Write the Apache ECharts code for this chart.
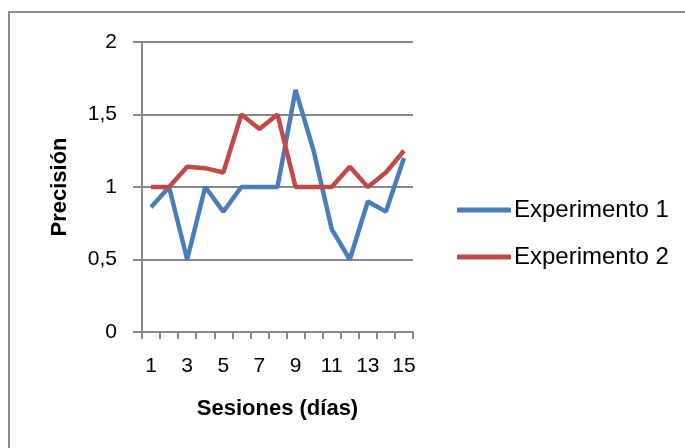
<!DOCTYPE html>
<html>
<head>
<meta charset="utf-8">
<script src="https://cdn.jsdelivr.net/npm/echarts@6/dist/echarts.min.js"></script>
<style>
  html, body { margin: 0; padding: 0; background: #fff; }
  #chart { width: 685px; height: 448px; }
</style>
</head>
<body>
<div id="chart"></div>
<script>
// Sesiones 1..15
const sessions = ['1','2','3','4','5','6','7','8','9','10','11','12','13','14','15'];
// Precisión por sesión
const experimento1 = [0.86, 1.0, 0.5, 1.0, 0.83, 1.0, 1.0, 1.0, 1.67, 1.25, 0.71, 0.5, 0.9, 0.83, 1.2];
const experimento2 = [1.0, 1.0, 1.14, 1.13, 1.1, 1.5, 1.4, 1.5, 1.0, 1.0, 1.0, 1.14, 1.0, 1.1, 1.25];
const seriesNames = ['Experimento 1', 'Experimento 2'];

const FONT = "'Liberation Sans', Arial, sans-serif";
const GRID_GRAY = '#878787';

const chart = echarts.init(document.getElementById('chart'), null, { renderer: 'canvas' });

chart.setOption({
  backgroundColor: '#ffffff',
  animation: false,
  graphic: [{
    type: 'rect',
    shape: { x: 9, y: 12, width: 800, height: 600 },
    style: { fill: 'none', stroke: '#8c8c8c', lineWidth: 2 },
    silent: true
  }],
  grid: { left: 142, right: 272, top: 42, bottom: 116 },
  legend: {
    orient: 'vertical',
    left: 452,
    top: 193,
    itemWidth: 54,
    itemHeight: 5,
    itemGap: 23,
    icon: 'roundRect',
    textStyle: { fontFamily: FONT, fontSize: 24, color: '#000', padding: [0, 0, 0, -2] },
    data: seriesNames
  },
  xAxis: {
    type: 'category',
    data: sessions,
    boundaryGap: true,
    name: 'Sesiones (días)',
    nameLocation: 'middle',
    nameGap: 66,
    nameTextStyle: { fontFamily: FONT, fontSize: 22, fontWeight: 'bold', color: '#000' },
    axisLine: { lineStyle: { color: GRID_GRAY, width: 2 } },
    axisTick: { show: true, length: 7, interval: 0, alignWithLabel: false, lineStyle: { color: GRID_GRAY, width: 2 } },
    axisLabel: { interval: 1, margin: 24, fontFamily: FONT, fontSize: 21, color: '#000' },
    splitLine: { show: false }
  },
  yAxis: {
    type: 'value',
    min: 0,
    max: 2,
    interval: 0.5,
    name: 'Precisión',
    nameLocation: 'middle',
    nameGap: 71,
    nameTextStyle: { fontFamily: FONT, fontSize: 22, fontWeight: 'bold', color: '#000' },
    axisLine: { show: true, lineStyle: { color: GRID_GRAY, width: 2 } },
    axisTick: { show: true, length: 9, lineStyle: { color: GRID_GRAY, width: 2 } },
    axisLabel: {
      margin: 25,
      fontFamily: FONT,
      fontSize: 21,
      color: '#000',
      formatter: v => String(v).replace('.', ',')
    },
    splitLine: { show: true, lineStyle: { color: GRID_GRAY, width: 2 } }
  },
  series: [
    {
      name: seriesNames[0],
      type: 'line',
      data: experimento1,
      symbol: 'none',
      lineStyle: { color: '#4a7ebb', width: 4.5 },
      itemStyle: { color: '#4a7ebb' }
    },
    {
      name: seriesNames[1],
      type: 'line',
      data: experimento2,
      symbol: 'none',
      lineStyle: { color: '#be4b48', width: 4.5 },
      itemStyle: { color: '#be4b48' }
    }
  ]
});
</script>
</body>
</html>
